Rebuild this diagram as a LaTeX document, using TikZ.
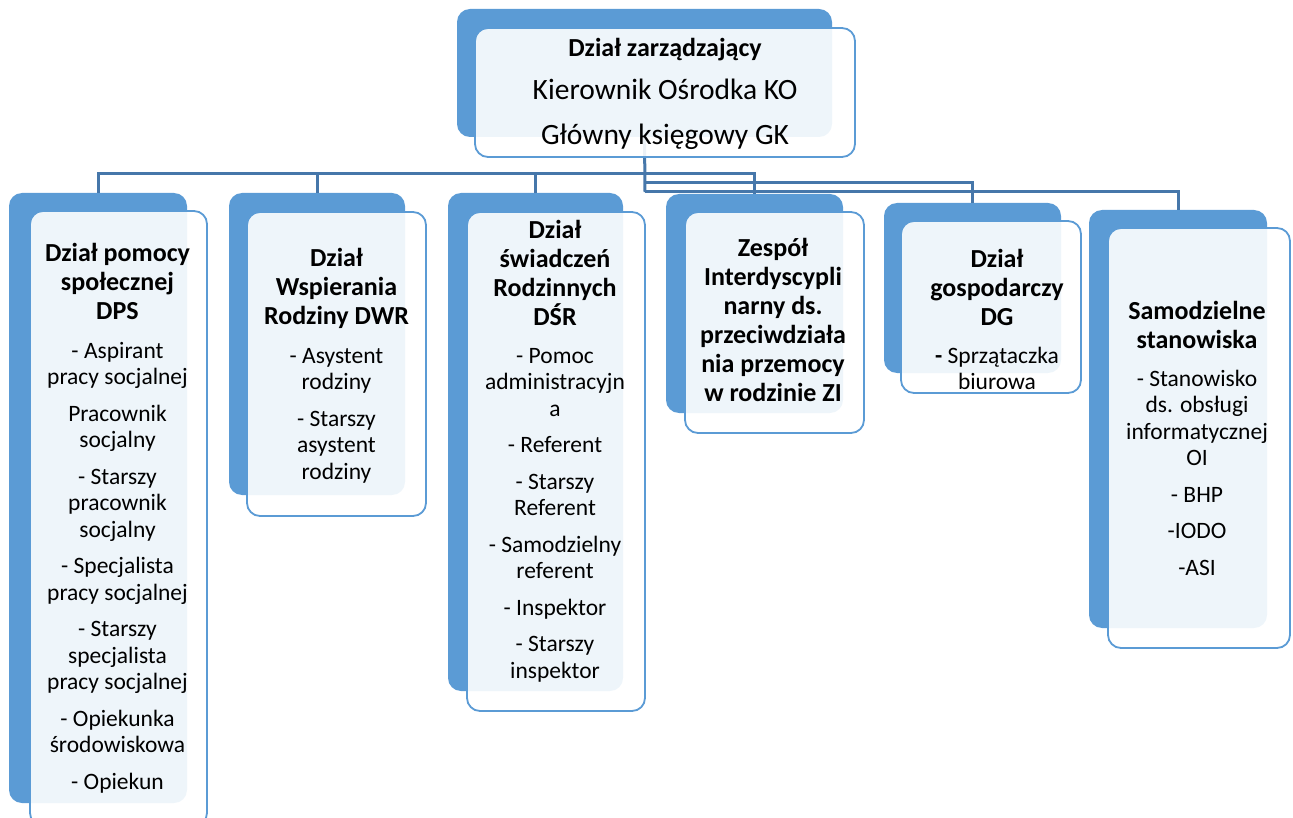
\documentclass[tikz,border=0pt]{standalone}
\usepackage{fontspec}
\setmainfont{Carlito}
\usetikzlibrary{fit}
\definecolor{darkbox}{HTML}{5B9BD5}
\definecolor{frontedge}{HTML}{5B9BD5}
\definecolor{conn}{HTML}{4677AA}
\begin{document}
\begin{tikzpicture}[x=1pt,y=-1pt,
  backbox/.style={fill=darkbox, draw=none, rounded corners=13pt, inner sep=0pt},
  frontbox/.style={fill=white, fill opacity=0.9, draw=frontedge, draw opacity=1, line width=1.8pt, rounded corners=13pt, inner sep=0pt},
  ttl/.style={font=\fontsize{26}{29}\selectfont\bfseries, align=center, anchor=north, inner sep=0pt},
  body/.style={font=\fontsize{23.5}{26.5}\selectfont, align=center, anchor=north, inner sep=0pt},
  link/.style={draw=conn, line width=3pt}
]
\useasboundingbox (0,0) rectangle (1293,818);

% back (dark) boxes
\node[backbox, fit={(457,9) (832,137)}] (topb) {};
\node[backbox, fit={(9,193) (187,803)}] (dpsb) {};
\node[backbox, fit={(229,193) (405,495)}] (dwrb) {};
\node[backbox, fit={(448,193) (623,691)}] (dsrb) {};
\node[backbox, fit={(666,194) (843,413)}] (zib) {};
\node[backbox, fit={(884,203) (1061,373)}] (dgb) {};
\node[backbox, fit={(1089,210) (1267,628)}] (ssb) {};

% connectors
\coordinate (j1) at (645,174);
\coordinate (j2) at (645,183);
\coordinate (j3) at (645,192);
\draw[link] (topb.south) -- (j3);
\draw[link] (dpsb.north) |- (j1) -| (zib.north);
\draw[link] (dwrb.north) -- (dwrb.north |- j1);
\draw[link] (dsrb.north) -- (dsrb.north |- j1);
\draw[link] (j2) -| (dgb.north);
\draw[link] (j3) -| (ssb.north);

% front boxes
\node[frontbox, fit={(475,28) (855,157)}] (topf) {};
\node[frontbox, fit={(30,211) (207,826)}] (dpsf) {};
\node[frontbox, fit={(247,212) (426,516)}] (dwrf) {};
\node[frontbox, fit={(467,212) (645,711)}] (dsrf) {};
\node[frontbox, fit={(685,212) (864,433)}] (zif) {};
\node[frontbox, fit={(901,221) (1081,393)}] (dgf) {};
\node[frontbox, fit={(1108,228) (1290,648)}] (ssf) {};

% texts
\node[ttl] (topt) at (665,35.7) {\strut Dział zarządzający};
\node[font=\fontsize{29.5}{44.5}\selectfont, align=center, anchor=north, inner sep=0pt] (topx) at (665,68.35)
  {\strut Kierownik Ośrodka KO\\Główny księgowy GK};

\node[ttl] (dpst) at (117.5,240.7) {\strut Dział pomocy\\społecznej\\DPS};
\node[body] (dpsx) at (117.5,339.45) {\strut - Aspirant\\pracy socjalnej\\[10pt]Pracownik\\socjalny\\[10pt]- Starszy\\pracownik\\socjalny\\[10pt]- Specjalista\\pracy socjalnej\\[10pt]- Starszy\\specjalista\\pracy socjalnej\\[10pt]- Opiekunka\\środowiskowa\\[10pt]- Opiekun};

\node[ttl] (dwrt) at (336.5,245.7) {\strut Dział\\Wspierania\\Rodziny DWR};
\node[body] (dwrx) at (336.5,344.45) {\strut - Asystent\\rodziny\\[10pt]- Starszy\\asystent\\rodziny};

\node[ttl] (dsrt) at (555,217.7) {\strut Dział\\świadczeń\\Rodzinnych\\DŚR};
\node[body] (dsrx) at (555,344.45) {\strut - Pomoc\\administracyjn\\a\\[10pt]- Referent\\[10pt]- Starszy\\Referent\\[10pt]- Samodzielny\\referent\\[10pt]- Inspektor\\[10pt]- Starszy\\inspektor};

\node[ttl] (zit) at (773,235.7) {\strut Zespół\\Interdyscypli\\narny ds.\\przeciwdziała\\nia przemocy\\w rodzinie ZI};

\node[ttl] (dgt) at (997,246.7) {\strut Dział\\gospodarczy\\DG};
\node[body] (dgx) at (997,344.45) {\strut {\bfseries -} Sprzątaczka\\biurowa};

\node[ttl] (sst) at (1197,298.7) {\strut Samodzielne\\stanowiska};
\node[body] (ssx) at (1197,367.45) {\strut - Stanowisko\\ds. obsługi\\informatycznej\\OI\\[10pt]- BHP\\[10pt]-IODO\\[10pt]-ASI};
\end{tikzpicture}
\end{document}
